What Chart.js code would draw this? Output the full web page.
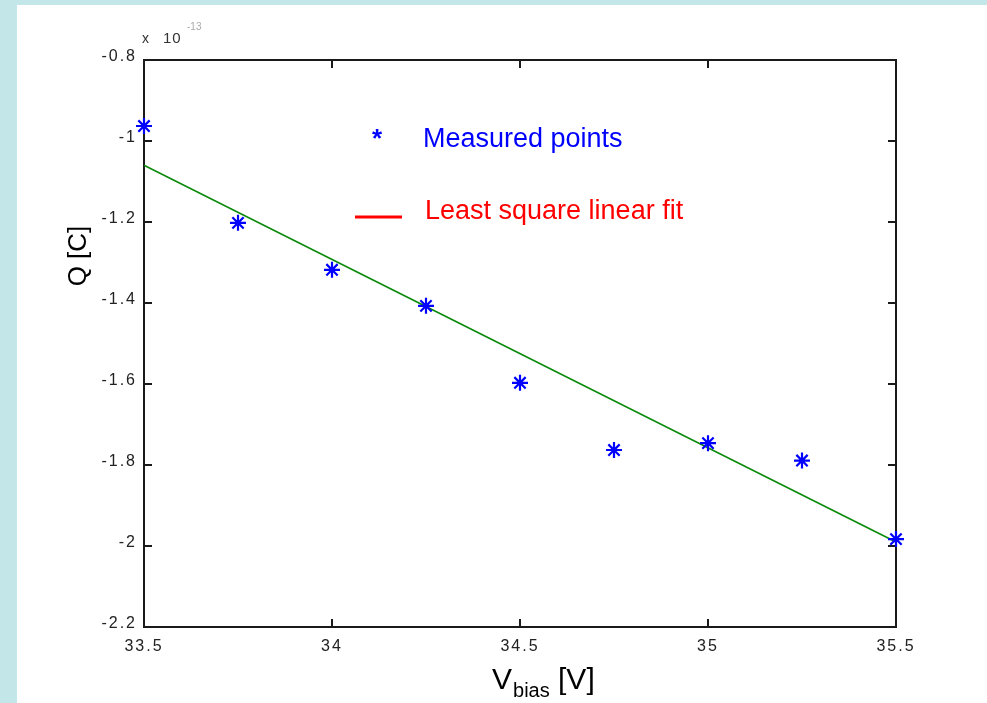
<!DOCTYPE html>
<html lang="en">
<head>
    <meta charset="UTF-8">
    <title>Q vs Vbias</title>
    <script src="https://cdn.jsdelivr.net/npm/chart.js"></script>
    <style>
        html, body {
            margin: 0;
            padding: 0;
            background: #c3e6e8;
            width: 987px;
            height: 703px;
            overflow: hidden;
        }
        .panel {
            position: absolute;
            left: 17px;
            top: 5px;
            width: 970px;
            height: 698px;
            background: #ffffff;
        }
    </style>
</head>
<body>
    <div class="panel">
        <canvas id="qChart"></canvas>
    </div>

    <script>
        // Measured points (Q in units of 1e-13 C)
        const vbias = [33.5, 33.75, 34, 34.25, 34.5, 34.75, 35, 35.25, 35.5];
        const charge = [-0.963, -1.202, -1.318, -1.407, -1.597, -1.763, -1.746, -1.789, -1.983];

        // Least square fit line, endpoints
        const fitV = [33.5, 35.5];
        const fitQ = [-1.06, -1.99];

        const xTicks = [33.5, 34, 34.5, 35, 35.5];
        const yTicks = [-0.8, -1, -1.2, -1.4, -1.6, -1.8, -2, -2.2];

        const fmt = v => String(Number(v.toFixed(2)));

        // box + inward ticks on all four sides (matlab style)
        const frame = {
            id: 'frame',
            beforeDatasetsDraw(chart) {
                const { ctx, chartArea: a, scales } = chart;
                ctx.save();
                ctx.strokeStyle = '#1a1a1a';
                ctx.lineWidth = 2;
                ctx.strokeRect(a.left, a.top, a.right - a.left, a.bottom - a.top);
                const len = 8;
                ctx.beginPath();
                xTicks.forEach(v => {
                    const px = Math.round(scales.x.getPixelForValue(v));
                    ctx.moveTo(px, a.bottom); ctx.lineTo(px, a.bottom - len);
                    ctx.moveTo(px, a.top); ctx.lineTo(px, a.top + len);
                });
                yTicks.forEach(v => {
                    const py = Math.round(scales.y.getPixelForValue(v));
                    ctx.moveTo(a.left, py); ctx.lineTo(a.left + len, py);
                    ctx.moveTo(a.right, py); ctx.lineTo(a.right - len, py);
                });
                ctx.stroke();
                ctx.restore();
            }
        };

        // axis titles, exponent and the hand placed legend
        const labels = {
            id: 'labels',
            beforeDraw(chart) {
                chart.ctx.letterSpacing = '2px';
            },
            afterDraw(chart) {
                const ctx = chart.ctx;
                ctx.save();
                ctx.letterSpacing = '0px';
                ctx.textBaseline = 'alphabetic';
                ctx.textAlign = 'left';

                // x 10^-13
                ctx.fillStyle = '#333';
                ctx.font = '14px Arial, "Liberation Sans", sans-serif';
                ctx.fillText('x', 125, 38);
                ctx.letterSpacing = '1px';
                ctx.font = '15px Arial, "Liberation Sans", sans-serif';
                ctx.fillText('10', 146, 38);
                ctx.letterSpacing = '0px';
                ctx.fillStyle = '#aaa';
                ctx.font = '10px Arial, "Liberation Sans", sans-serif';
                ctx.fillText('-13', 170, 25);

                // y title
                ctx.fillStyle = '#000';
                ctx.save();
                ctx.translate(69, 251);
                ctx.rotate(-Math.PI / 2);
                ctx.textAlign = 'center';
                ctx.font = '26px Arial, "Liberation Sans", sans-serif';
                ctx.fillText('Q [C]', 0, 0);
                ctx.restore();

                // x title with subscript
                let x = 475;
                ctx.font = '30px Arial, "Liberation Sans", sans-serif';
                ctx.fillText('V', x, 684);
                x += ctx.measureText('V').width + 1;
                ctx.font = '20px Arial, "Liberation Sans", sans-serif';
                ctx.fillText('bias', x, 692);
                x += ctx.measureText('bias').width;
                ctx.font = '30px Arial, "Liberation Sans", sans-serif';
                ctx.fillText(' [V]', x, 684);

                // legend
                ctx.fillStyle = '#0000ff';
                ctx.font = 'bold 26px Arial, "Liberation Sans", sans-serif';
                ctx.textAlign = 'center';
                ctx.fillText('*', 360, 142);
                ctx.textAlign = 'left';
                ctx.font = '27px Arial, "Liberation Sans", sans-serif';
                ctx.fillText('Measured points', 406, 142);

                ctx.strokeStyle = '#ff0000';
                ctx.lineWidth = 3;
                ctx.beginPath();
                ctx.moveTo(338, 212);
                ctx.lineTo(385, 212);
                ctx.stroke();
                ctx.fillStyle = '#ff0000';
                ctx.fillText('Least square linear fit', 408, 214);

                ctx.restore();
            }
        };

        const ctx = document.getElementById('qChart').getContext('2d');
        new Chart(ctx, {
            type: 'scatter',
            data: {
                datasets: [
                    {
                        label: 'Least square linear fit',
                        data: fitV.map((v, i) => ({ x: v, y: fitQ[i] })),
                        showLine: true,
                        borderColor: '#0a8a0a',
                        borderWidth: 1.6,
                        pointRadius: 0,
                        fill: false,
                        clip: false,
                        order: 2
                    },
                    {
                        label: 'Measured points',
                        data: vbias.map((v, i) => ({ x: v, y: charge[i] })),
                        showLine: false,
                        pointStyle: 'star',
                        pointRadius: 8,
                        borderColor: '#0000ff',
                        backgroundColor: '#0000ff',
                        borderWidth: 2.2,
                        clip: false,
                        order: 1
                    }
                ]
            },
            options: {
                responsive: true,
                maintainAspectRatio: false,
                animation: false,
                layout: {
                    padding: { left: 0, top: 55, right: 91, bottom: 0 }
                },
                plugins: {
                    legend: { display: false },
                    tooltip: { enabled: false }
                },
                scales: {
                    x: {
                        type: 'linear',
                        min: 33.5,
                        max: 35.5,
                        afterFit: s => { s.height = 76; },
                        afterBuildTicks: s => { s.ticks = xTicks.map(v => ({ value: v })); },
                        grid: { display: false, drawTicks: false },
                        border: { display: false },
                        ticks: {
                            padding: 10,
                            color: '#222',
                            font: { family: 'Arial, "Liberation Sans", sans-serif', size: 16 },
                            maxRotation: 0,
                            callback: v => fmt(v)
                        }
                    },
                    y: {
                        type: 'linear',
                        min: -2.2,
                        max: -0.8,
                        afterFit: s => { s.width = 127; },
                        afterBuildTicks: s => { s.ticks = yTicks.map(v => ({ value: v })); },
                        grid: { display: false, drawTicks: false },
                        border: { display: false },
                        ticks: {
                            padding: 7,
                            labelOffset: -3,
                            color: '#222',
                            font: { family: 'Arial, "Liberation Sans", sans-serif', size: 16 },
                            callback: v => fmt(v)
                        }
                    }
                }
            },
            plugins: [frame, labels]
        });
    </script>
</body>
</html>
